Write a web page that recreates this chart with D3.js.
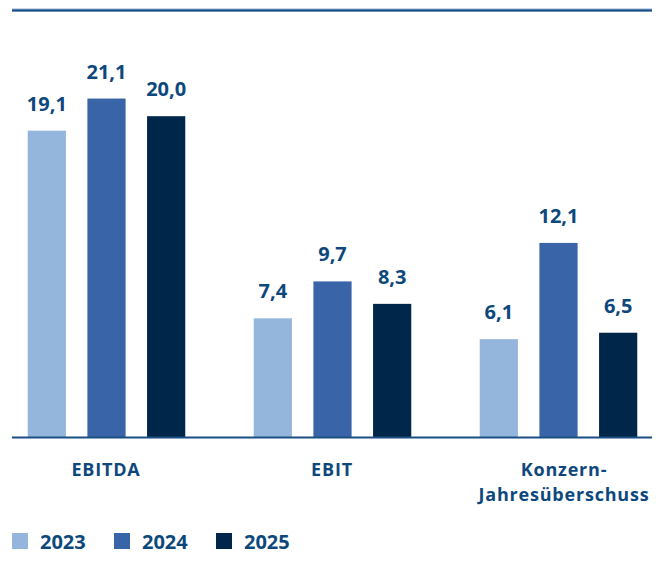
<!DOCTYPE html>
<html>
<head>
<meta charset="utf-8">
<style>
  body { margin: 0; background: #fff; }
  svg { display: block; font-family: "Open Sans", sans-serif; }
  .val, .cat, .leg { fill: #0d487d; font-weight: 700; }
</style>
</head>
<body>
<svg width="660" height="562"></svg>
<script src="https://d3js.org/d3.v7.min.js"></script>
<script>
// data
var categories = ["EBITDA", "EBIT", "Konzern-\nJahresüberschuss"];
var years = ["2023", "2024", "2025"];
var values2023 = [19.1, 7.4, 6.1];
var values2024 = [21.1, 9.7, 12.1];
var values2025 = [20.0, 8.3, 6.5];
var colours = ["#95b6dc", "#3a64a8", "#002649"];

var series = [values2023, values2024, values2025];

var svg = d3.select("svg"),
    width = +svg.attr("width"),
    height = +svg.attr("height");

var baseY = 437;

// scales
var x0 = d3.scaleBand().domain(categories).range([-7, 671]);
var x1 = d3.scaleBand().domain(years).range([24, 203])
    .paddingInner(0.36).paddingOuter(0.18);
var y = d3.scaleLinear().domain([0, 25]).range([baseY, baseY - 401]);
var fmt = function(v) { return d3.format(".1f")(v).replace(".", ","); };

// top rule
svg.append("line")
    .attr("x1", 12).attr("x2", 652)
    .attr("y1", 10).attr("y2", 10)
    .attr("stroke", "#8fb0d4").attr("stroke-width", 3);
svg.append("line")
    .attr("x1", 12).attr("x2", 652)
    .attr("y1", 10.5).attr("y2", 10.5)
    .attr("stroke", "#174d82").attr("stroke-width", 2);

// bars
var groups = svg.selectAll(".grp")
    .data(categories)
    .enter().append("g")
    .attr("class", "grp")
    .attr("transform", function(d) { return "translate(" + x0(d) + ",0)"; });

groups.selectAll("rect")
    .data(function(d, i) {
      return years.map(function(yr, j) { return {year: yr, value: series[j][i], j: j}; });
    })
    .enter().append("rect")
    .attr("x", function(d) { return x1(d.year); })
    .attr("width", x1.bandwidth())
    .attr("y", function(d) { return y(d.value); })
    .attr("height", function(d) { return y(0) - y(d.value); })
    .attr("fill", function(d) { return colours[d.j]; });

groups.selectAll(".val")
    .data(function(d, i) {
      return years.map(function(yr, j) { return {year: yr, value: series[j][i]}; });
    })
    .enter().append("text")
    .attr("class", "val")
    .attr("x", function(d) { return x1(d.year) + x1.bandwidth() / 2; })
    .attr("y", function(d) { return y(d.value) - 20; })
    .attr("text-anchor", "middle")
    .style("font-size", "20px")
    .text(function(d) { return fmt(d.value); });

// axis baseline
svg.append("line")
    .attr("x1", 12).attr("x2", 652)
    .attr("y1", baseY + 0.5).attr("y2", baseY + 0.5)
    .attr("stroke", "#1b4f84").attr("stroke-width", 2);

// category labels (one text per line)
categories.forEach(function(d, i) {
  var cx = x0(d) + x0.bandwidth() / 2 + (i === 2 ? 6 : 0);
  d.split("\n").forEach(function(line, k) {
    svg.append("text")
        .attr("class", "cat")
        .attr("text-anchor", "middle")
        .attr("x", cx)
        .attr("y", 476 + k * 24.5)
        .style("font-size", "18px")
        .style("letter-spacing", "0.8px")
        .text(line);
  });
});

// legend
var legX = [12, 114, 216];
var leg = svg.selectAll(".legitem")
    .data(years)
    .enter().append("g")
    .attr("transform", function(d, i) { return "translate(" + legX[i] + ",533)"; });
leg.append("rect")
    .attr("width", 16).attr("height", 16)
    .attr("fill", function(d, i) { return colours[i]; });
leg.append("text")
    .attr("class", "leg")
    .attr("x", 28).attr("y", 16)
    .style("font-size", "20px")
    .text(function(d) { return d; });
</script>
</body>
</html>
